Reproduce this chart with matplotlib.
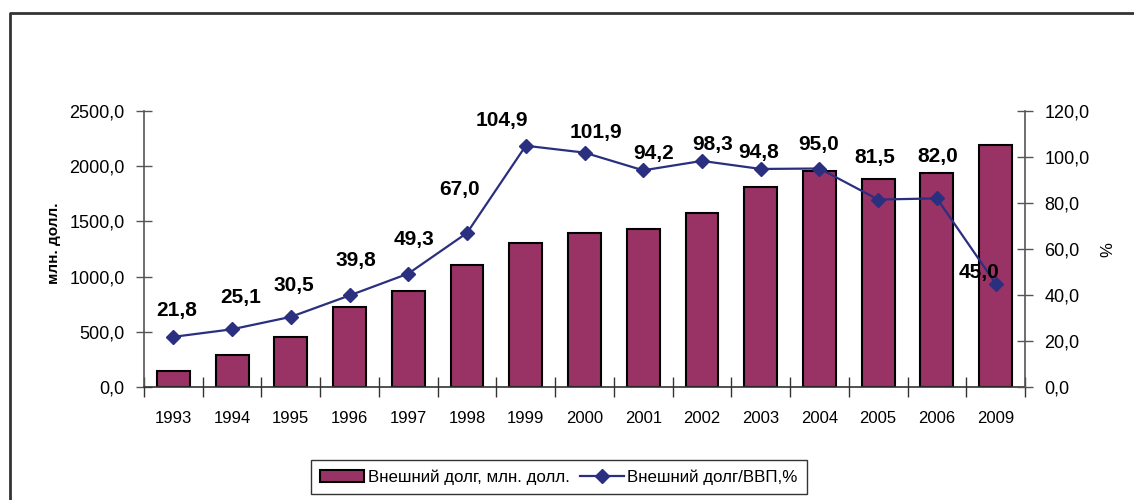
import matplotlib
matplotlib.use("Agg")
import matplotlib.pyplot as plt
from matplotlib.ticker import FuncFormatter, FixedLocator, NullFormatter
from matplotlib.lines import Line2D

plt.rcParams['font.family'] = ['Liberation Sans', 'DejaVu Sans']

years = ['1993', '1994', '1995', '1996', '1997', '1998', '1999', '2000',
         '2001', '2002', '2003', '2004', '2005', '2006', '2009']
debt_musd = [148, 290, 452, 725, 872, 1106, 1303, 1395, 1431, 1576, 1810,
             1960, 1885, 1938, 2192]
debt_gdp = [21.8, 25.1, 30.5, 39.8, 49.3, 67.0, 104.9, 101.9, 94.2, 98.3,
            94.8, 95.0, 81.5, 82.0, 45.0]
bar_label = 'Внешний долг, млн. долл.'
line_label = 'Внешний долг/ВВП,%'
left_ylabel = 'млн. долл.'
right_ylabel = '%'

# label offsets (pixels) relative to the marker
label_dx = [3, 9, 3, 6, 6, -7, -24, 11, 10, 11, -2, -1, -3, 1, -17]
label_dy = [26, 32, 31, 35, 34, 43, 25, 20, 17, 16, 16, 24, 42, 42, 11]

BAR_COLOR = '#993366'
LINE_COLOR = '#2B2F80'
AXIS_COLOR = '#555555'

W, H = 1134, 500
fig = plt.figure(figsize=(W / 100, H / 100), dpi=100)

# chart-area border (left and top only visible)
fig.add_artist(Line2D([10 / W, 10 / W, 1.0], [0, 1 - 13 / H, 1 - 13 / H],
                      transform=fig.transFigure, color='#333333', lw=2))

ax = fig.add_axes([144 / W, 1 - 387 / H, (1025 - 144) / W, (387 - 111) / H])
x = list(range(len(years)))
ax.bar(x, debt_musd, width=0.56, color=BAR_COLOR, edgecolor='black',
       linewidth=1.5, zorder=2)
ax.set_xlim(-0.5, len(years) - 0.5)
ax.set_ylim(0, 2500)
ax.set_yticks([0, 500, 1000, 1500, 2000, 2500])
fmt = FuncFormatter(lambda v, p: f"{v:.1f}".replace('.', ','))
ax.yaxis.set_major_formatter(fmt)

ax.xaxis.set_major_locator(FixedLocator([i - 0.5 for i in range(len(years) + 1)]))
ax.xaxis.set_major_formatter(NullFormatter())
ax.xaxis.set_minor_locator(FixedLocator(x))
ax.set_xticklabels(years, minor=True)
ax.tick_params(axis='x', which='major', direction='inout', length=14,
               width=1, color='#333333')
ax.tick_params(axis='x', which='minor', length=0, pad=17, labelsize=12)
ax.tick_params(axis='y', direction='inout', length=12, width=1,
               color=AXIS_COLOR, pad=8, labelsize=13)

for s in ['top', 'right']:
    ax.spines[s].set_visible(False)
ax.spines['left'].set_color(AXIS_COLOR)
ax.spines['bottom'].set_color('#333333')
ax.spines['left'].set_linewidth(1.2)
ax.spines['bottom'].set_linewidth(1.2)

ax2 = ax.twinx()
ax2.set_ylim(0, 120)
ax2.set_yticks([0, 20, 40, 60, 80, 100, 120])
ax2.yaxis.set_major_formatter(fmt)
ax2.tick_params(axis='y', direction='inout', length=12, width=1,
                color=AXIS_COLOR, pad=8, labelsize=13)
for s in ['top', 'left', 'bottom']:
    ax2.spines[s].set_visible(False)
ax2.spines['right'].set_color(AXIS_COLOR)
ax2.spines['right'].set_linewidth(1.2)
ax2.plot(x, debt_gdp, color=LINE_COLOR, lw=1.6, marker='D', markersize=7,
         zorder=3)
for xi, v, dx, dy in zip(x, debt_gdp, label_dx, label_dy):
    ax2.annotate(f"{v:.1f}".replace('.', ','), (xi, v),
                 xytext=(dx, dy), textcoords='offset pixels',
                 ha='center', va='center', fontsize=15, fontweight='bold',
                 zorder=4)

fig.text(54 / W, 1 - 243 / H, left_ylabel, rotation=90, ha='center',
         va='center', fontsize=11, fontweight='bold')
fig.text(1108 / W, 1 - 250 / H, right_ylabel, rotation=90, ha='center',
         va='center', fontsize=12)

handles = [plt.Rectangle((0, 0), 1, 1, facecolor=BAR_COLOR, edgecolor='black',
                         linewidth=1.5),
           Line2D([], [], color=LINE_COLOR, lw=1.6, marker='D', markersize=7)]
leg = fig.legend(handles, [bar_label, line_label], ncol=2,
                 loc='center', bbox_to_anchor=(559 / W, 1 - 477 / H),
                 fontsize=12.2, frameon=True, fancybox=False,
                 edgecolor='black', handlelength=2.6, handletextpad=0.2,
                 columnspacing=0.6, borderpad=0.55)
leg.get_frame().set_linewidth(1.0)

fig.savefig('out.png', dpi=100)
